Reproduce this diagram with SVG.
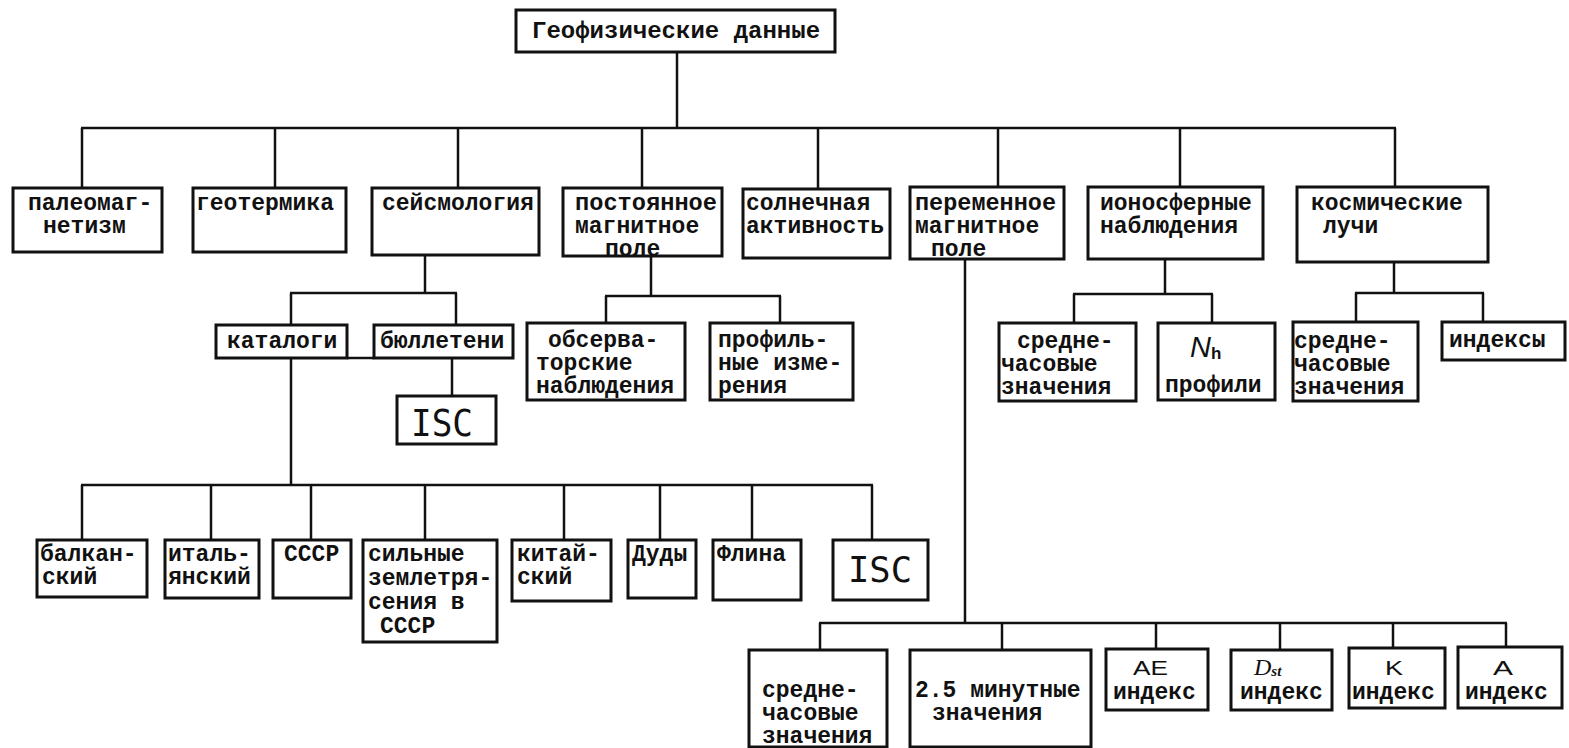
<svg xmlns="http://www.w3.org/2000/svg" width="1569" height="748" viewBox="0 0 1569 748">
<style>
.b{fill:#fff;stroke:#111;stroke-width:3}
.t{font-family:"Liberation Mono","DejaVu Sans Mono",monospace;font-weight:bold;font-size:23px;fill:#111}
.big{font-family:"DejaVu Sans Mono","Liberation Mono",monospace;font-size:38px;fill:#111}
.s{font-family:"Liberation Sans","DejaVu Sans",sans-serif;font-size:21px;fill:#111}
#connectors line{stroke:#111;stroke-width:2.5}
</style>
<rect width="1569" height="748" fill="#fff"/>
<g id="connectors">
<line x1="677" y1="52" x2="677" y2="128"/>
<line x1="81" y1="128" x2="1396" y2="128"/>
<line x1="82" y1="128" x2="82" y2="188"/>
<line x1="275" y1="128" x2="275" y2="188"/>
<line x1="458" y1="128" x2="458" y2="188"/>
<line x1="642" y1="128" x2="642" y2="188"/>
<line x1="818" y1="128" x2="818" y2="189"/>
<line x1="998" y1="128" x2="998" y2="187"/>
<line x1="1180" y1="128" x2="1180" y2="187"/>
<line x1="1395" y1="128" x2="1395" y2="187"/>
<line x1="425" y1="255" x2="425" y2="293"/>
<line x1="290" y1="293" x2="457" y2="293"/>
<line x1="291" y1="293" x2="291" y2="325"/>
<line x1="456" y1="293" x2="456" y2="325"/>
<line x1="347" y1="358" x2="374" y2="358"/>
<line x1="452" y1="358" x2="452" y2="396"/>
<line x1="291" y1="358" x2="291" y2="485"/>
<line x1="81" y1="485" x2="873" y2="485"/>
<line x1="82" y1="485" x2="82" y2="540"/>
<line x1="211" y1="485" x2="211" y2="540"/>
<line x1="311" y1="485" x2="311" y2="540"/>
<line x1="425" y1="485" x2="425" y2="540"/>
<line x1="564" y1="485" x2="564" y2="540"/>
<line x1="660" y1="485" x2="660" y2="540"/>
<line x1="752" y1="485" x2="752" y2="540"/>
<line x1="872" y1="485" x2="872" y2="540"/>
<line x1="651" y1="256" x2="651" y2="296"/>
<line x1="605" y1="296" x2="781" y2="296"/>
<line x1="606" y1="296" x2="606" y2="323"/>
<line x1="780" y1="296" x2="780" y2="323"/>
<line x1="965" y1="259" x2="965" y2="623"/>
<line x1="819" y1="623" x2="1507" y2="623"/>
<line x1="820" y1="623" x2="820" y2="650"/>
<line x1="1002" y1="623" x2="1002" y2="650"/>
<line x1="1156" y1="623" x2="1156" y2="649"/>
<line x1="1280" y1="623" x2="1280" y2="650"/>
<line x1="1393" y1="623" x2="1393" y2="648"/>
<line x1="1506" y1="623" x2="1506" y2="647"/>
<line x1="1165" y1="259" x2="1165" y2="294"/>
<line x1="1073" y1="294" x2="1213" y2="294"/>
<line x1="1074" y1="294" x2="1074" y2="323"/>
<line x1="1212" y1="294" x2="1212" y2="323"/>
<line x1="1394" y1="262" x2="1394" y2="293"/>
<line x1="1355" y1="293" x2="1484" y2="293"/>
<line x1="1356" y1="293" x2="1356" y2="322"/>
<line x1="1483" y1="293" x2="1483" y2="322"/>
</g>
<g id="root"><rect class="b" x="516" y="10" width="319" height="42"/><text class="t" x="532" y="38" style="font-size:24px">Геофизические данные</text></g>
<g id="paleo"><rect class="b" x="13" y="188" width="149" height="64"/><text class="t"><tspan x="28" y="210">палеомаг-</tspan><tspan x="43" y="233">нетизм</tspan></text></g>
<g id="geoterm"><rect class="b" x="193" y="188" width="153" height="64"/><text class="t" x="196" y="210">геотермика</text></g>
<g id="seism"><rect class="b" x="372" y="188" width="167" height="67"/><text class="t" x="382" y="210">сейсмология</text></g>
<g id="postmag"><rect class="b" x="563" y="188" width="159" height="68"/><text class="t"><tspan x="575" y="210" textLength="142" lengthAdjust="spacingAndGlyphs">постоянное</tspan><tspan x="575" y="233">магнитное</tspan><tspan x="605" y="256">поле</tspan></text></g>
<g id="solar"><rect class="b" x="743" y="189" width="147" height="69"/><text class="t"><tspan x="746" y="210">солнечная</tspan><tspan x="746" y="233">активность</tspan></text></g>
<g id="varmag"><rect class="b" x="910" y="187" width="154" height="72"/><text class="t"><tspan x="915" y="210" textLength="141" lengthAdjust="spacingAndGlyphs">переменное</tspan><tspan x="915" y="233">магнитное</tspan><tspan x="931" y="256">поле</tspan></text></g>
<g id="iono"><rect class="b" x="1088" y="187" width="175" height="72"/><text class="t"><tspan x="1100" y="210">ионосферные</tspan><tspan x="1100" y="233">наблюдения</tspan></text></g>
<g id="cosmic"><rect class="b" x="1297" y="187" width="191" height="75"/><text class="t"><tspan x="1311" y="210">космические</tspan><tspan x="1323" y="233">лучи</tspan></text></g>
<g id="catalogs"><rect class="b" x="216" y="325" width="131" height="33"/><text class="t" x="227" y="348">каталоги</text></g>
<g id="bulletins"><rect class="b" x="374" y="325" width="139" height="33"/><text class="t" x="380" y="348">бюллетени</text></g>
<g id="isc1"><rect class="b" x="397" y="396" width="99" height="48"/><text class="big" x="411" y="436" textLength="62" lengthAdjust="spacingAndGlyphs">ISC</text></g>
<g id="observ"><rect class="b" x="527" y="323" width="158" height="77"/><text class="t"><tspan x="548" y="347">обсерва-</tspan><tspan x="536" y="370">торские</tspan><tspan x="536" y="393">наблюдения</tspan></text></g>
<g id="profile"><rect class="b" x="710" y="323" width="143" height="77"/><text class="t"><tspan x="718" y="347">профиль-</tspan><tspan x="718" y="370">ные изме-</tspan><tspan x="718" y="393">рения</tspan></text></g>
<g id="iono-hourly"><rect class="b" x="999" y="323" width="137" height="78"/><text class="t"><tspan x="1017" y="348">средне-</tspan><tspan x="1001" y="371">часовые</tspan><tspan x="1001" y="394">значения</tspan></text></g>
<g id="nh"><rect class="b" x="1158" y="323" width="117" height="77"/><text x="1190" y="357" style="font-family:'Liberation Sans','DejaVu Sans',sans-serif;font-style:italic;font-size:29px;fill:#111">N</text><text x="1211" y="359" style="font-family:'Liberation Sans','DejaVu Sans',sans-serif;font-weight:bold;font-size:17px;fill:#111">h</text><text class="t" x="1165" y="392">профили</text></g>
<g id="cosmic-hourly"><rect class="b" x="1293" y="322" width="125" height="79"/><text class="t"><tspan x="1294" y="348">средне-</tspan><tspan x="1294" y="371">часовые</tspan><tspan x="1294" y="394">значения</tspan></text></g>
<g id="indices"><rect class="b" x="1442" y="322" width="123" height="38"/><text class="t" x="1449" y="347">индексы</text></g>
<g id="balkan"><rect class="b" x="37" y="540" width="110" height="57"/><text class="t"><tspan x="40" y="561">балкан-</tspan><tspan x="42" y="584">ский</tspan></text></g>
<g id="italian"><rect class="b" x="165" y="540" width="94" height="58"/><text class="t"><tspan x="168" y="561">италь-</tspan><tspan x="168" y="584">янский</tspan></text></g>
<g id="ussr"><rect class="b" x="273" y="540" width="78" height="58"/><text class="t" x="284" y="561">СССР</text></g>
<g id="strong"><rect class="b" x="363" y="540" width="134" height="102"/><text class="t"><tspan x="368" y="561">сильные</tspan><tspan x="368" y="585">землетря-</tspan><tspan x="368" y="609">сения в</tspan><tspan x="380" y="633">СССР</tspan></text></g>
<g id="chinese"><rect class="b" x="512" y="540" width="99" height="61"/><text class="t"><tspan x="517" y="561">китай-</tspan><tspan x="517" y="584">ский</tspan></text></g>
<g id="dudy"><rect class="b" x="628" y="540" width="68" height="58"/><text class="t" x="632" y="561">Дуды</text></g>
<g id="flina"><rect class="b" x="713" y="540" width="88" height="60"/><text class="t" x="717" y="561">Флина</text></g>
<g id="isc2"><rect class="b" x="833" y="540" width="95" height="60"/><text class="big" x="848" y="582" style="font-size:36px" textLength="64" lengthAdjust="spacingAndGlyphs">ISC</text></g>
<g id="var-hourly"><rect class="b" x="749" y="650" width="138" height="97"/><text class="t"><tspan x="762" y="697">средне-</tspan><tspan x="762" y="720">часовые</tspan><tspan x="762" y="743">значения</tspan></text></g>
<g id="var-25"><rect class="b" x="910" y="650" width="181" height="97"/><text class="t"><tspan x="915" y="697">2.5 минутные</tspan><tspan x="932" y="720">значения</tspan></text></g>
<g id="ae"><rect class="b" x="1106" y="649" width="102" height="61"/><text class="s" x="1133" y="675" textLength="35" lengthAdjust="spacingAndGlyphs">AE</text><text class="t" x="1113" y="699">индекс</text></g>
<g id="dst"><rect class="b" x="1231" y="650" width="101" height="60"/><text x="1254" y="675" style="font-family:'Liberation Serif','DejaVu Serif',serif;font-style:italic;font-size:24px;fill:#111">D<tspan style="font-size:15px;font-weight:bold" dy="1">st</tspan></text><text class="t" x="1240" y="699">индекс</text></g>
<g id="k"><rect class="b" x="1349" y="648" width="96" height="60"/><text class="s" x="1385" y="675" textLength="18" lengthAdjust="spacingAndGlyphs">K</text><text class="t" x="1352" y="699">индекс</text></g>
<g id="a"><rect class="b" x="1458" y="647" width="104" height="61"/><text class="s" x="1493" y="675" textLength="20" lengthAdjust="spacingAndGlyphs">A</text><text class="t" x="1465" y="699">индекс</text></g>
</svg>
